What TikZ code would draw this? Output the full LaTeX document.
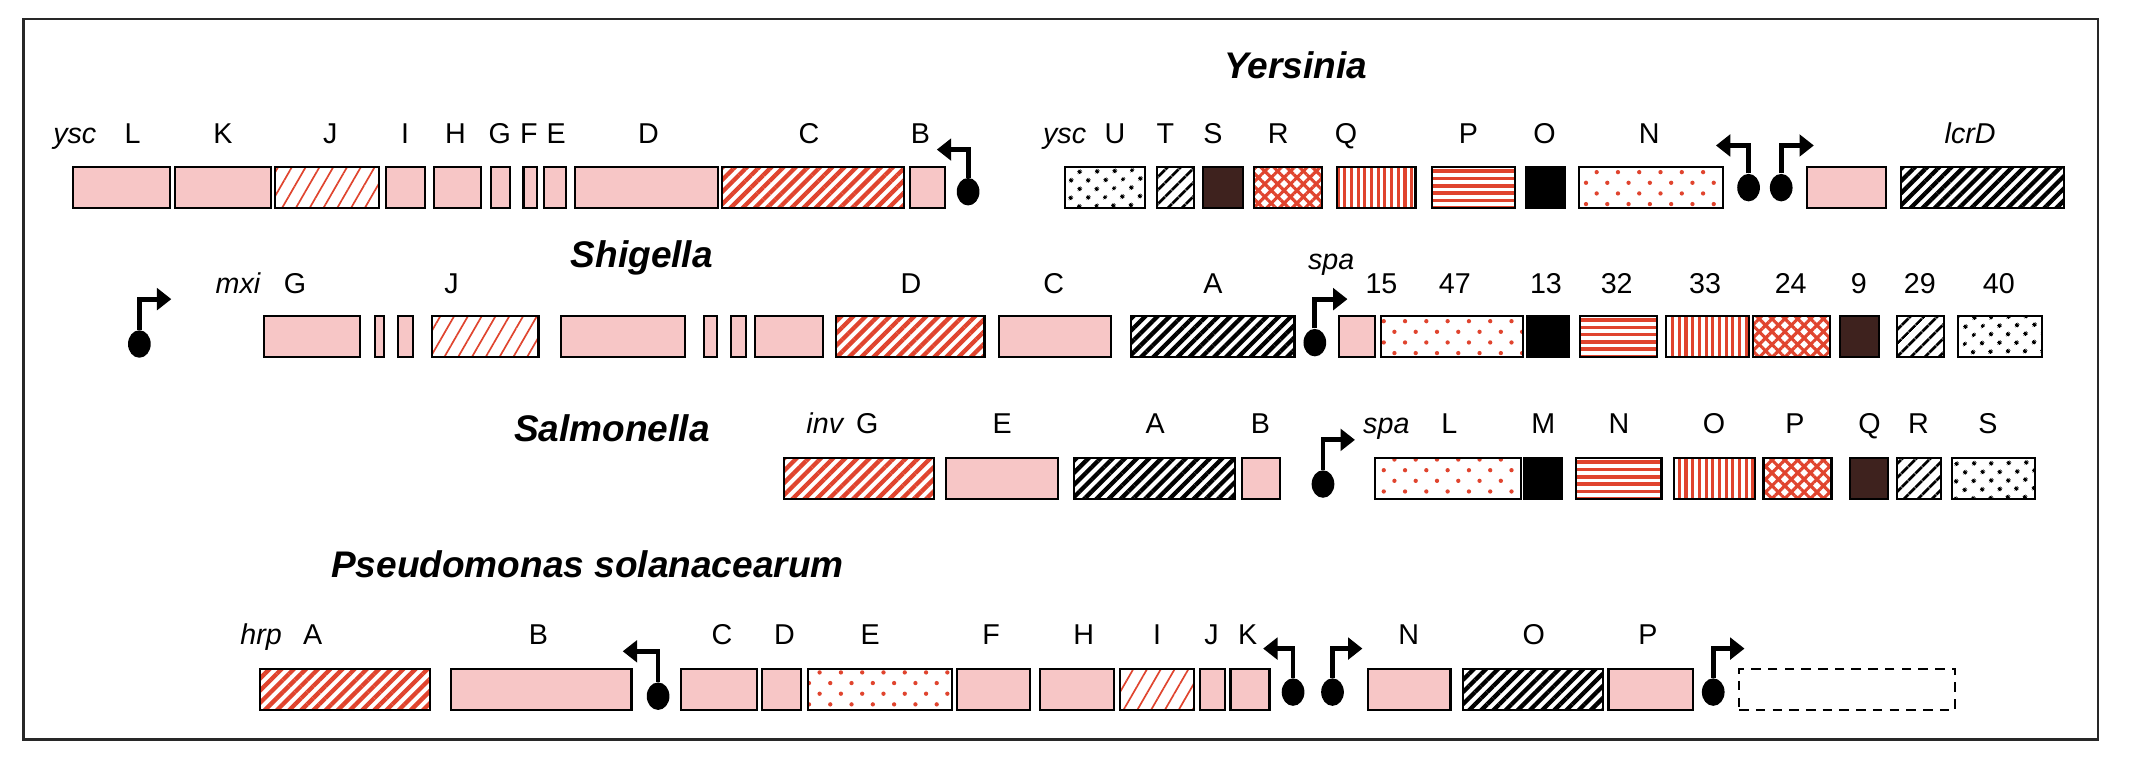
\documentclass[tikz,border=0pt]{standalone}
\usepackage{fontspec}
\setmainfont{Liberation Sans}
\usepackage{tikz}
\usetikzlibrary{arrows.meta,patterns.meta,shapes.geometric}
\definecolor{genepink}{RGB}{247,198,198}
\definecolor{genered}{RGB}{224,68,46}
\definecolor{genebrown}{RGB}{62,34,30}
\definecolor{framegray}{RGB}{40,40,40}
\tikzset{>/.tip={Triangle[length=6pt,width=9pt]}}
\tikzset{gene/.style={draw=black,line width=0.9pt,minimum height=6mm,inner sep=0pt,outer sep=0pt}}
\tikzset{pinkg/.style={fill=genepink},blackg/.style={fill=black},browng/.style={fill=genebrown},
  emptyg/.style={fill=white,dashed,dash pattern=on 4pt off 3pt}}
\tikzset{reddense/.style={pattern={Lines[angle=45,distance=3.6pt,line width=1.8pt]},pattern color=genered},
  blackdense/.style={pattern={Lines[angle=45,distance=3.6pt,line width=1.8pt]},pattern color=black},
  redsparse/.style={pattern={Lines[angle=60,distance=5pt,line width=0.7pt]},pattern color=genered},
  blacksparse/.style={pattern={Lines[angle=45,distance=4pt,line width=1.2pt]},pattern color=black},
  blackdots/.style={pattern={Dots[angle=45,distance=5.4pt,radius=1pt]},pattern color=black},
  reddots/.style={pattern={Dots[angle=45,distance=6.3pt,radius=0.9pt]},pattern color=genered},
  redcross/.style={pattern={Hatch[angle=45,distance=3.8pt,line width=1.3pt]},pattern color=genered},
  redvert/.style={pattern={Lines[angle=90,distance=2.8pt,line width=1.3pt]},pattern color=genered},
  redhoriz/.style={fill=white,path picture={\foreach \k in {0,...,5}
    \fill[genered] ([yshift={-0.9pt-\k*3.05pt}]path picture bounding box.north west)
      rectangle ([yshift={-2.4pt-\k*3.05pt}]path picture bounding box.north east);}}}
\tikzset{genelabel/.style={anchor=base,inner sep=0pt,font=\fontsize{12}{14}\selectfont},
  genepre/.style={genelabel,font=\fontsize{12}{14}\selectfont\itshape},
  orgtitle/.style={anchor=base,inner sep=0pt,font=\fontsize{15.5}{18}\selectfont\bfseries\itshape},
  promball/.style={ellipse,fill=black,minimum width=9.5pt,minimum height=11.5pt,inner sep=0pt},
  prom/.style={->,line width=2pt}}
\def\gene#1#2#3#4#5{\node(#1)[gene,#5,minimum width={(#3-#2)*0.2mm}] at ({(#2+#3)/2},#4){};}

\begin{document}
\begin{tikzpicture}[x=0.2mm,y=-0.2mm]
        \fill[white] (0,0) rectangle (1568,565);
        \useasboundingbox (0,0) rectangle (1568,565);
        \draw[line width=1.1pt,framegray] (17.5,14) rectangle (1543,544);
        \node(yersinia)[orgtitle] at (953,57.5){Yersinia};
        \node(shigella)[orgtitle] at (472,197){Shigella};
        \node(salmonella)[orgtitle] at (450,325){Salmonella};
        \node(pseudomonas)[orgtitle] at (432,425){Pseudomonas solanacearum};
        \foreach \n/\a/\b/\s in {L/54/125/pinkg,K/128.5/199/pinkg,J/202.5/279/redsparse,I/284/312.5/pinkg,
          H/319/354/pinkg,G/361/375/pinkg,F/385/395/pinkg,E/400/416/pinkg,D/423/528/pinkg,C/531/665/reddense,
          B/669/695/pinkg,U/783/842/blackdots,T/851/878/blacksparse,S/885/914/browng,R/922/972/redcross,
          Q/983/1041/redvert,P/1053/1114/redhoriz,O/1122/1151/blackg,N/1161/1267/reddots,X/1329/1387/pinkg,
          lcrD/1398/1518/blackdense}
          {\gene{y\n}{\a}{\b}{138}{\s}}
        \foreach \n/\a/\b/\s in {G/194/265/pinkg,x1/276/282.5/pinkg,x2/292.5/303.5/pinkg,J/318/396/redsparse,
          x3/412.5/504/pinkg,x4/517.5/527.5/pinkg,x5/537.5/548.5/pinkg,x6/555/605/pinkg,D/615/724/reddense,
          C/735/817/pinkg,A/832/952/blackdense,15/985/1011.5/pinkg,47/1015.5/1120/reddots,13/1123/1153.6/blackg,
          32/1162/1218.5/redhoriz,33/1225/1286/redvert,24/1289.5/1346/redcross,9/1353/1382/browng,
          29/1395/1430/blacksparse,40/1440/1502/blackdots}
          {\gene{s\n}{\a}{\b}{247.5}{\s}}
        \foreach \n/\a/\b/\s in {G/576.4/687/reddense,E/696/778/pinkg,A/789.7/908/blackdense,B/913.5/941.4/pinkg,
          L/1011.5/1118.6/reddots,M/1121/1149/blackg,N/1159/1222/redhoriz,O/1231/1291/redvert,P/1297/1347/redcross,
          Q/1360.6/1388.5/browng,R/1395/1427.5/blacksparse,S/1435.7/1496.6/blackdots}
          {\gene{m\n}{\a}{\b}{352}{\s}}
        \foreach \n/\a/\b/\s in {A/191.4/316/reddense,B/331.7/464.4/pinkg,C/501/557/pinkg,D/560.5/589/pinkg,
          E/594/700/reddots,F/704/757.5/pinkg,H/764.6/819.4/pinkg,I/823.8/878/redsparse,J/882.4/900.7/pinkg,
          K/905/933.6/pinkg,N/1005.8/1066.8/pinkg,O/1076/1179/blackdense,P/1183/1245/pinkg,X/1279/1438/emptyg}
          {\gene{h\n}{\a}{\b}{507}{\s}}
        \foreach \t/\x in {L/97.5,K/164,J/243,I/298,H/335,G/367.5,F/389,E/409,D/477,C/595,B/677,
          U/820,T/857,S/892,R/940,Q/990,P/1080,O/1136,N/1213}
          \node(ly\t)[genelabel] at (\x,105.5){\t};
        \foreach \t/\x in {G/217,J/332,D/670,C/775,A/892,15/1016,47/1070,13/1137,32/1189,33/1254,
          24/1317,9/1367,29/1412,40/1470}
          \node(ls\t)[genelabel] at (\x,216){\t};
        \foreach \t/\x in {G/637.8,E/737,A/849.5,B/927,L/1066,M/1135,N/1190.6,O/1260.6,P/1320,Q/1375,
          R/1411,S/1462}
          \node(lm\t)[genelabel] at (\x,319){\t};
        \foreach \t/\x in {A/230,B/396,C/531,D/577,E/640,F/729,H/797,I/851,J/891,K/917.6,N/1036,
          O/1128,P/1212}
          \node(lh\t)[genelabel] at (\x,474){\t};
        \node(yscL)[genepre] at (55,105.5){ysc};
        \node(yscR)[genepre] at (783,105.5){ysc};
        \node(lcr)[genepre] at (1449,105.5){lcrD};
        \node(mxi)[genepre] at (175,216){mxi};
        \node(spaS)[genepre] at (979,198){spa};
        \node(inv)[genepre] at (606.6,319){inv};
        \node(spaM)[genepre] at (1019.6,319){spa};
        \node(hrp)[genepre] at (192,474){hrp};
        \foreach \p/\x/\y/\tx/\ty in {p1/712/141/689/110,p2/1286/138/1262/107,p3/1310/138/1334/107,
          p4/102.5/253/126/220,p5/967/252/991/220,p6/973/356/996.5/323.5,p7/484/512/458/479,
          p8/951/509/929/477,p9/980/509/1002/477,p10/1260/509/1283/477}
          {\node(\p)[promball] at (\x,\y){};
          \coordinate(\p-t) at (\tx,\ty);
          \draw[prom] (\p) |- (\p-t);}
      \end{tikzpicture}
\end{document}
